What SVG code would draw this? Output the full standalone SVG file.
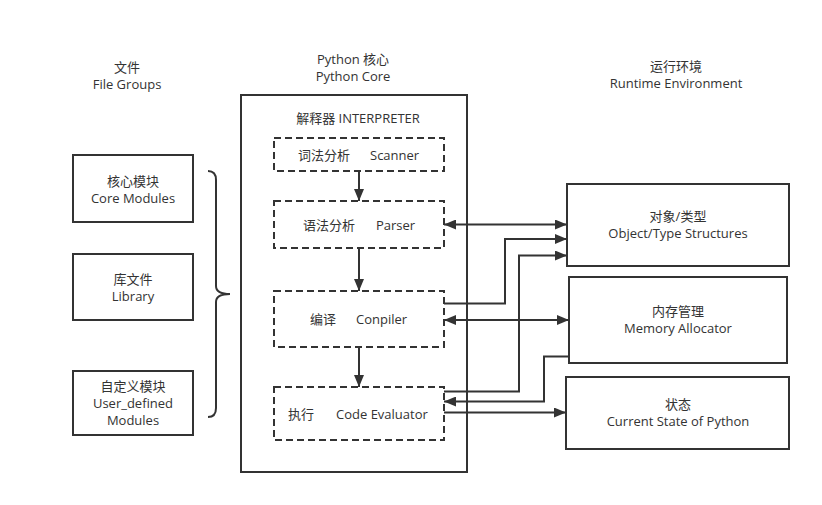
<svg xmlns="http://www.w3.org/2000/svg" width="822" height="505" viewBox="0 0 822 505">
<defs>
<style>
text{font-family:"Open Sans","Noto Sans CJK SC",sans-serif;font-size:13px;fill:#333}
.c{text-anchor:middle}
.box{fill:#fff;stroke:#333;stroke-width:2}
.dash{fill:#fff;stroke:#333;stroke-width:2;stroke-dasharray:7 4}
.ln{fill:none;stroke:#333;stroke-width:2}
.a{marker-end:url(#ah)}
.aa{marker-end:url(#ah);marker-start:url(#ahs)}
</style>
<marker id="ah" markerUnits="userSpaceOnUse" markerWidth="12" markerHeight="10" refX="12" refY="5" orient="auto"><path d="M0,0 L12,5 L0,10 z" fill="#333"/></marker>
<marker id="ahs" markerUnits="userSpaceOnUse" markerWidth="12" markerHeight="10" refX="0" refY="5" orient="auto"><path d="M12,0 L0,5 L12,10 z" fill="#333"/></marker>
</defs>
<rect width="822" height="505" fill="#fff"/>

<g id="titles">
<text class="c" x="127" y="72">文件</text>
<text class="c" x="127" y="89">File Groups</text>
<text class="c" x="353" y="64">Python 核心</text>
<text class="c" x="353" y="81">Python Core</text>
<text class="c" x="676" y="71">运行环境</text>
<text class="c" x="676" y="88">Runtime Environment</text>
</g>

<g id="core-modules">
<rect class="box" x="73" y="155" width="120" height="67"/>
<text class="c" x="133" y="186">核心模块</text>
<text class="c" x="133" y="203">Core Modules</text>
</g>
<g id="library">
<rect class="box" x="73" y="254" width="120" height="66"/>
<text class="c" x="133" y="284">库文件</text>
<text class="c" x="133" y="301">Library</text>
</g>
<g id="user-defined">
<rect class="box" x="73" y="371" width="120" height="64"/>
<text class="c" x="133" y="391">自定义模块</text>
<text class="c" x="133" y="408">User_defined</text>
<text class="c" x="133" y="425">Modules</text>
</g>
<g id="brace">
<path class="ln" d="M208,171 Q216,171 216,180 L216,286 Q216,294 230,294 Q216,294 216,302 L216,408 Q216,417 208,417"/>
</g>

<g id="python-core">
<rect class="box" x="241" y="95" width="226" height="377"/>
<text class="c" x="358" y="123">解释器 INTERPRETER</text>
</g>

<g id="scanner">
<rect class="dash" x="274" y="138" width="170" height="33"/>
<text x="298" y="160">词法分析</text>
<text x="370" y="160">Scanner</text>
</g>
<g id="parser">
<rect class="dash" x="274" y="201" width="170" height="47"/>
<text x="303" y="230">语法分析</text>
<text x="376" y="230">Parser</text>
</g>
<g id="compiler">
<rect class="dash" x="274" y="291" width="170" height="56"/>
<text x="310" y="324">编译</text>
<text x="356" y="324">Conpiler</text>
</g>
<g id="evaluator">
<rect class="dash" x="274" y="387" width="170" height="53"/>
<text x="288" y="419">执行</text>
<text x="336" y="419">Code Evaluator</text>
</g>

<g id="object-type">
<rect class="box" x="567" y="184" width="222" height="82"/>
<text class="c" x="678" y="221">对象/类型</text>
<text class="c" x="678" y="238">Object/Type Structures</text>
</g>
<g id="memory">
<rect class="box" x="569" y="277" width="218" height="86"/>
<text class="c" x="678" y="316">内存管理</text>
<text class="c" x="678" y="333">Memory Allocator</text>
</g>
<g id="state">
<rect class="box" x="566" y="377" width="223" height="72"/>
<text class="c" x="678" y="409">状态</text>
<text class="c" x="678" y="426">Current State of Python</text>
</g>

<g id="connectors">
<path class="ln a" d="M359,171 L359,201"/>
<path class="ln a" d="M359,248 L359,291"/>
<path class="ln a" d="M359,347 L359,387"/>
<path class="ln aa" d="M444,224.5 L567,224.5"/>
<path class="ln a" d="M444,303.5 L505,303.5 L505,239 L567,239"/>
<path class="ln a" d="M444,391.5 L519,391.5 L519,255.5 L567,255.5"/>
<path class="ln aa" d="M444,320 L569,320"/>
<path class="ln a" d="M569,356.5 L544,356.5 L544,401.5 L444,401.5"/>
<path class="ln a" d="M444,412.5 L566,412.5"/>
</g>
</svg>
